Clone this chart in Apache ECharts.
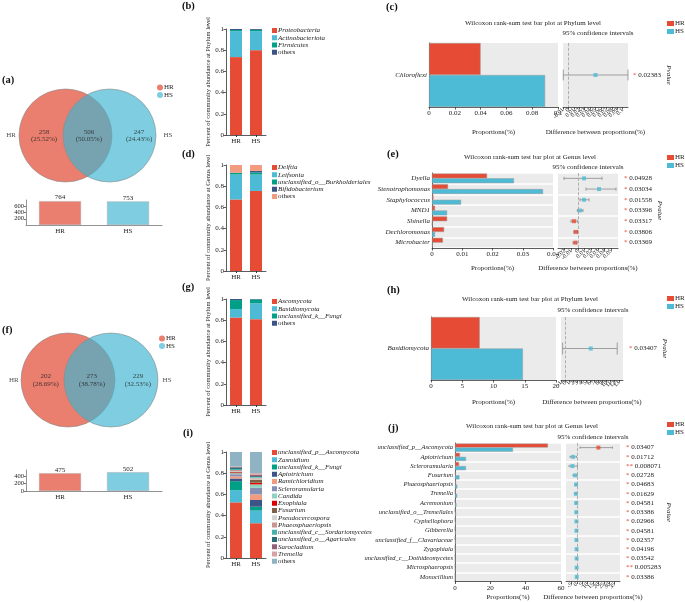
<!DOCTYPE html>
<html><head><meta charset="utf-8">
<script src="https://cdn.jsdelivr.net/npm/echarts@6/dist/echarts.min.js"></script>
<style>html,body{margin:0;padding:0;background:#fff}#c{width:685px;height:602px}</style>
</head><body><div id="c"></div>
<script>
// ---------------- DATA ----------------
const groups = ['HR', 'HS'];
// Venn counts: [HR only, shared, HS only]
const vennA = [258, 506, 247];
const vennF = [202, 273, 229];

const taxaB = ['Proteobacteria', 'Actinobacteriota', 'Firmicutes', 'others'];
const taxaB_HR = [0.735, 0.245, 0.010, 0.010];
const taxaB_HS = [0.800, 0.180, 0.012, 0.008];

const taxaD = ['Delftia', 'Leifsonia', 'unclassified_o__Burkholderiales', 'Bifidobacterium', 'others'];
const taxaD_HR = [0.675, 0.235, 0.015, 0.003, 0.072];
const taxaD_HS = [0.755, 0.155, 0.020, 0.015, 0.055];

const taxaG = ['Ascomycota', 'Basidiomycota', 'unclassified_k__Fungi', 'others'];
const taxaG_HR = [0.825, 0.080, 0.085, 0.010];
const taxaG_HS = [0.810, 0.150, 0.035, 0.005];

const taxaI = ['unclassified_p__Ascomycota', 'Zasmidium', 'unclassified_k__Fungi', 'Apiotrichum', 'Ramichloridium',
  'Scleroramularia', 'Candida', 'Exophiala', 'Fusarium', 'Pseudocercospora', 'Phaeosphaeriopsis',
  'unclassified_c__Sordariomycetes', 'unclassified_o__Agaricales', 'Sarocladium', 'Tremella', 'others'];
const taxaI_HR = [0.525, 0.115, 0.085, 0.025, 0.020, 0.020, 0.010, 0.008, 0.007, 0.005, 0.010, 0.010, 0.015, 0.005, 0.005, 0.135];
const taxaI_HS = [0.328, 0.119, 0.037, 0.063, 0.053, 0.062, 0.032, 0.016, 0.030, 0.010, 0.008, 0.007, 0.008, 0.012, 0.015, 0.200];

// Wilcoxon (c) phylum, bacteria
const catsC = ['Chloroflexi'];
const hrC = [0.040];
const hsC = [0.090];
const diffC = [0.050];
const loC = [-0.0095];
const hiC = [0.110];
const pC = ['0.02383'];

// Wilcoxon (e) genus, bacteria
const catsE = ['Dyella', 'Stenotrophomonas', 'Staphylococcus', 'MND1', 'Shinella', 'Dechloromonas', 'Microbacter'];
const hrE = [0.0182, 0.0053, 0.0005, 0.0010, 0.0050, 0.0040, 0.0036];
const hsE = [0.0271, 0.0367, 0.0096, 0.0050, 0.0001, 0.0010, 0.0002];
const diffE = [0.009, 0.0315, 0.009, 0.003, -0.006, -0.003, -0.004];
const loE = [-0.021, 0.012, 0.003, -0.001, -0.0105, -0.0065, -0.0075];
const hiE = [0.036, 0.057, 0.0165, 0.0075, -0.001, -0.0005, -0.0015];
const pE = ['0.04928', '0.03034', '0.01558', '0.03396', '0.03317', '0.03806', '0.03369'];

// Wilcoxon (h) phylum, fungi
const catsH = ['Basidiomycota'];
const hrH = [7.8];
const hsH = [14.7];
const diffH = [6.2];
const loH = [-0.6];
const hiH = [12.6];
const pH = ['0.03407'];

// Wilcoxon (j) genus, fungi
const catsJ = ['unclassified_p__Ascomycota', 'Apiotrichum', 'Scleroramularia', 'Fusarium', 'Phaeosphaeriopsis', 'Tremella',
  'Acremonium', 'unclassified_o__Tremellales', 'Cyphellophora', 'Gibberella', 'unclassified_f__Clavariaceae', 'Zygophiala',
  'unclassified_c__Dothideomycetes', 'Microsphaeropsis', 'Monocillium'];
const hrJ = [52.6, 2.8, 2.3, 0.3, 0.6, 0.2, 0.1, 0.05, 0.05, 0.02, 0.02, 0, 0, 0, 0];
const hsJ = [32.8, 6.2, 6.2, 2.5, 1.3, 1.2, 0.8, 0.6, 0.4, 0.4, 0.4, 0.2, 0.15, 0.15, 0.1];
const diffJ = [20.0, -3.4, -4.0, -1.5, -0.7, -0.9, -0.6, -0.5, -0.35, -0.35, -0.35, -0.2, -0.15, -0.15, -0.1];
const loJ = [3.0, -6.2, -7.1, -3.5, -1.3, -1.5, -1.0, -0.8, -0.6, -0.6, -0.6, -0.35, -0.3, -0.3, -0.2];
const hiJ = [33.0, -0.3, 0.6, 0.3, -0.2, -0.3, -0.3, -0.2, -0.1, -0.1, -0.1, -0.05, -0.05, -0.03, -0.02];
const pJ = ['0.03407', '0.01712', '0.008071', '0.02728', '0.04683', '0.01629', '0.04581', '0.03386', '0.02966',
  '0.04581', '0.02357', '0.04196', '0.03542', '0.005283', '0.03386'];

// ---------------- STYLE ----------------
const FONT = 'Liberation Serif';
const RED = '#e64b35', BLUE = '#4dbbd5';
const VRED = '#ea7e6f', VBLUE = '#7ecde0';
const colB = ['#E64B35', '#4DBBD5', '#00A087', '#3C5488'];
const colD = ['#E64B35', '#4DBBD5', '#00A087', '#3C5488', '#F39B7F'];
const colG = ['#E64B35', '#4DBBD5', '#00A087', '#3C5488'];
const colI = ['#E64B35', '#4DBBD5', '#00A087', '#3C5488', '#F39B7F', '#8491B4', '#91D1C2', '#DC0000', '#7E6148',
  '#d4d4d4', '#c8968f', '#45b3a9', '#2b6c74', '#93607c', '#d9a0a5', '#8fb3c2'];

const option = {
  animation: false, backgroundColor: '#fff',
  textStyle: { fontFamily: FONT, color: '#222' },
  grid: [], xAxis: [], yAxis: [], series: [], legend: [], graphic: []
};
const axisLineS = { show: true, lineStyle: { color: '#333', width: 0.8 } };
const tickS = { show: true, length: 2.5, lineStyle: { color: '#333', width: 0.8 } };
const lab = o => Object.assign({ fontSize: 7, color: '#222', fontFamily: FONT }, o || {});
const nameS = o => Object.assign({ fontSize: 7, color: '#222', fontFamily: FONT }, o || {});

function addGrid(g, xa, ya) {
  const gi = option.grid.length; option.grid.push(g);
  const xi = option.xAxis.length; option.xAxis.push(Object.assign({ gridIndex: gi }, xa));
  const yi = option.yAxis.length; option.yAxis.push(Object.assign({ gridIndex: gi }, ya));
  return { gi, xi, yi };
}
function addText(text, x, y, o) {
  option.graphic.push({ type: 'text', x, y, silent: true,
    style: Object.assign({ text, fontFamily: FONT, fontSize: 7, fill: '#222', align: 'center', verticalAlign: 'middle' }, o || {}) });
}

// ---------------- VENN ----------------
function vennPanel(counts, L) {
  const total = counts[0] + counts[1] + counts[2];
  const g = addGrid({ left: L.cx - 1.85 * L.u, top: L.cy - 1.2 * L.u, width: 3.85 * L.u, height: 2.4 * L.u },
    { type: 'value', min: -1.85, max: 2, show: false }, { type: 'value', min: -1.2, max: 1.2, show: false });
  const circ = fill => (params, api) => {
    const c = api.coord([api.value(0), api.value(1)]);
    const r = api.size([api.value(2), 0])[0];
    return { type: 'circle', shape: { cx: c[0], cy: c[1], r }, style: { fill, stroke: '#8c8c8c', lineWidth: 0.6 } };
  };
  option.series.push({ type: 'custom', name: 'HR\u200b', xAxisIndex: g.xi, yAxisIndex: g.yi, silent: true, clip: false,
    itemStyle: { color: VRED }, data: [[-L.d, 0, 1]], renderItem: circ(VRED) });
  option.series.push({ type: 'custom', name: 'HS\u200b', xAxisIndex: g.xi, yAxisIndex: g.yi, silent: true, clip: false,
    itemStyle: { color: VBLUE }, data: [[L.d, 0, 1]], renderItem: circ('rgba(65,181,209,0.68)') });
  const pct = v => (v / total * 100).toFixed(2) + '%';
  option.series.push({ type: 'scatter', xAxisIndex: g.xi, yAxisIndex: g.yi, symbolSize: 0, silent: true, z: 5,
    label: { show: true, position: 'inside', fontSize: 7, lineHeight: 7.5, color: '#222', fontFamily: FONT, formatter: '{b}' },
    data: [
      { name: 'HR', value: [L.hrX, 0] },
      { name: 'HS', value: [L.hsX, 0] },
      { name: counts[0] + '\n(' + pct(counts[0]) + ')', value: [L.tx[0], 0] },
      { name: counts[1] + '\n(' + pct(counts[1]) + ')', value: [L.tx[1], 0] },
      { name: counts[2] + '\n(' + pct(counts[2]) + ')', value: [L.tx[2], 0] }
    ] });
  option.legend.push({ left: L.lg[0], top: L.lg[1], orient: 'vertical', data: ['HR\u200b', 'HS\u200b'], icon: 'circle',
    itemWidth: 6, itemHeight: 6, itemGap: 0.5, selectedMode: false, padding: 0, itemStyle: { borderWidth: 0 },
    textStyle: { fontSize: 7, lineHeight: 6, fontFamily: FONT, color: '#222', padding: [0, 0, 0, -4] } });
  // totals bar chart
  const tot = [counts[0] + counts[1], counts[1] + counts[2]];
  const b = addGrid({ left: 26, top: L.bar[0], width: 136, height: L.bar[1] },
    { type: 'category', data: groups, axisLine: { show: true, lineStyle: { color: '#777', width: 0.8 } }, axisTick: { show: false },
      axisLabel: lab({ margin: 3 }) },
    { type: 'value', min: 0, max: L.bar[2], interval: 200, axisLine: { show: true, lineStyle: { color: '#777', width: 0.8 } },
      axisTick: { show: true, length: 2, lineStyle: { color: '#777' } }, axisLabel: lab({ fontSize: 6.5, margin: 2, showMaxLabel: false }),
      splitLine: { show: false } });
  option.series.push({ type: 'bar', xAxisIndex: b.xi, yAxisIndex: b.yi, barWidth: 42, silent: true,
    itemStyle: { borderColor: '#aaa', borderWidth: 0.5 },
    label: { show: true, position: 'top', distance: 0, fontSize: 7, color: '#222', fontFamily: FONT },
    data: tot.map((v, i) => ({ value: v, itemStyle: { color: i ? VBLUE : VRED } })) });
}

vennPanel(vennA, { cx: 87.5, cy: 135.5, u: 46.5, d: 0.473, hrX: -1.645, hsX: 1.73, tx: [-0.935, 0.03, 1.11], lg: [157, 84], bar: [200, 25, 800] });
vennPanel(vennF, { cx: 89.5, cy: 380, u: 47, d: 0.457, hrX: -1.61, hsX: 1.65, tx: [-0.93, 0.05, 1.03], lg: [159, 335], bar: [470, 21, 560] });

// ---------------- STACKED BARS ----------------
function stackPanel(key, taxa, hr, hs, colors, top, yname, legendTop) {
  const g = addGrid({ left: 226, top, width: 40, height: 106 },
    { type: 'category', data: groups, axisLine: axisLineS, axisTick: { show: true, alignWithLabel: true, length: 2, lineStyle: { color: '#333' } },
      axisLabel: lab({ margin: 3 }) },
    { type: 'value', min: 0, max: 1, interval: 0.2, name: yname, nameLocation: 'middle', nameGap: 14,
      nameTextStyle: nameS({ fontSize: 6.5 }), axisLine: axisLineS, axisTick: tickS, axisLabel: lab({ margin: 2 }), splitLine: { show: false } });
  const names = taxa.map(t => key + '::' + t);
  taxa.forEach((t, i) => option.series.push({ type: 'bar', name: names[i], stack: key, xAxisIndex: g.xi, yAxisIndex: g.yi,
    barWidth: 12, silent: true, data: [hr[i], hs[i]], itemStyle: { color: colors[i] } }));
  const rs = { fontSize: 7, lineHeight: 6, fontFamily: FONT, color: '#222' };
  option.legend.push({ left: 272, top: legendTop, orient: 'vertical', data: names, icon: 'rect', itemWidth: 5, itemHeight: 5,
    itemGap: 0.25, selectedMode: false, padding: 0,
    formatter: n => { const s = n.split('::')[1]; return s === 'others' ? '{n|others}' : '{i|' + s + '}'; },
    textStyle: Object.assign({}, rs, { padding: [0, 0, 0, -4], rich: { i: Object.assign({ fontStyle: 'italic' }, rs), n: Object.assign({}, rs) } }) });
}
stackPanel('b', taxaB, taxaB_HR, taxaB_HS, colB, 29, 'Percent of community abundance at Phylum level', 27);
stackPanel('d', taxaD, taxaD_HR, taxaD_HS, colD, 165, 'Percent of community abundance at Genus level', 164);
stackPanel('g', taxaG, taxaG_HR, taxaG_HS, colG, 299, 'Percent of community abundance at Phylum level', 298);
stackPanel('i', taxaI, taxaI_HR, taxaI_HS, colI, 452, 'Percent of community abundance at Genus level', 449);

// ---------------- WILCOXON ----------------
function wilcox(W) {
  const n = W.cats.length;
  const stars = W.p.map(v => parseFloat(v) < 0.01 ? '**' : '*');
  const L = addGrid({ left: W.L[0], top: W.top, width: W.L[1], height: W.h, show: true, backgroundColor: '#ebebeb', borderWidth: 0 },
    { type: 'value', min: 0, max: W.lmax, interval: W.lint, name: 'Proportions(%)', nameLocation: 'middle', nameGap: W.lgap,
      nameTextStyle: nameS(), axisLine: axisLineS, axisTick: tickS, axisLabel: lab({ margin: 3 }), splitLine: { show: false } },
    { type: 'category', data: W.cats, inverse: true, axisLine: axisLineS, axisTick: { show: false },
      axisLabel: lab({ fontStyle: 'italic', margin: 2, fontSize: W.cfs }),
      splitLine: { show: n > 1, lineStyle: { color: '#fff', width: 1.5 } } });
  option.series.push({ type: 'bar', name: 'HR', xAxisIndex: L.xi, yAxisIndex: L.yi, data: W.hr, barGap: '0%', barCategoryGap: W.gap,
    silent: true, itemStyle: { color: RED, borderColor: '#9a9a9a', borderWidth: 0.5 } });
  option.series.push({ type: 'bar', name: 'HS', xAxisIndex: L.xi, yAxisIndex: L.yi, data: W.hs, barGap: '0%', barCategoryGap: W.gap,
    silent: true, itemStyle: { color: BLUE, borderColor: '#9a9a9a', borderWidth: 0.5 } });
  const R = addGrid({ left: W.R[0], top: W.top, width: W.R[1], height: W.h, show: true, backgroundColor: '#ebebeb', borderWidth: 0 },
    { type: 'value', min: W.rmin, max: W.rmax, interval: W.rint, name: 'Difference between proportions(%)', nameLocation: 'middle',
      nameGap: W.rgap, nameTextStyle: nameS(), axisLine: axisLineS, axisTick: tickS,
      axisLabel: lab({ rotate: 45, margin: 2, fontSize: 6 }), splitLine: { show: false } },
    { type: 'category', data: W.cats, inverse: true, axisLine: { show: false }, axisTick: { show: false }, axisLabel: { show: false },
      splitLine: { show: n > 1, lineStyle: { color: '#fff', width: 1.5 } } });
  option.yAxis.push({ gridIndex: R.gi, type: 'category', position: 'right', inverse: true, data: W.p.map((v, i) => String(i)),
    axisLine: { show: false }, axisTick: { show: false },
    axisLabel: { fontSize: 7, color: '#222', fontFamily: FONT, margin: W.pm, formatter: (v, i) => '{s|' + stars[i] + '} ' + W.p[i],
      rich: { s: { color: RED, fontSize: 7, fontFamily: FONT } } },
    name: 'Pvalue', nameLocation: 'middle', nameRotate: -90, nameGap: W.pgap, nameTextStyle: nameS({ fontStyle: 'italic' }) });
  option.series.push({ type: 'custom', xAxisIndex: R.xi, yAxisIndex: R.yi, silent: true, z: 2,
    data: W.cats.map((c, i) => [W.lo[i], W.hi[i], i]), encode: { x: [0, 1], y: 2 },
    renderItem: (params, api) => {
      const a = api.coord([api.value(0), api.value(2)]);
      const b = api.coord([api.value(1), api.value(2)]);
      const h = api.size([0, 1])[1] * W.cap / 2;
      const st = { stroke: '#8a8a8a', lineWidth: 0.8 };
      return { type: 'group', children: [
        { type: 'line', shape: { x1: a[0], y1: a[1], x2: b[0], y2: b[1] }, style: st },
        { type: 'line', shape: { x1: a[0], y1: a[1] - h, x2: a[0], y2: a[1] + h }, style: st },
        { type: 'line', shape: { x1: b[0], y1: b[1] - h, x2: b[0], y2: b[1] + h }, style: st }
      ] };
    } });
  option.series.push({ type: 'scatter', xAxisIndex: R.xi, yAxisIndex: R.yi, symbol: 'rect', symbolSize: 4, silent: true, z: 3,
    data: W.diff.map((d, i) => ({ value: [d, i], itemStyle: { color: W.hr[i] > W.hs[i] ? RED : BLUE } })),
    markLine: { silent: true, symbol: 'none', label: { show: false }, lineStyle: { type: 'dashed', color: '#a0a0a0', width: 0.8 },
      data: [{ xAxis: 0 }] } });
  addText(W.title, W.tpos[0], W.tpos[1]);
  addText('95% confidence intervals', W.cpos[0], W.cpos[1]);
  option.legend.push({ left: W.lg[0], top: W.lg[1], orient: 'vertical', data: ['HR', 'HS'], icon: 'rect', itemWidth: 7, itemHeight: 5,
    itemGap: 1, selectedMode: false, padding: 0, itemStyle: { borderWidth: 0 },
    textStyle: { fontSize: 7, lineHeight: 5, fontFamily: FONT, color: '#222', padding: [0, 0, 0, -4] } });
}

wilcox({ cats: catsC, hr: hrC, hs: hsC, diff: diffC, lo: loC, hi: hiC, p: pC, top: 43, h: 64, L: [429, 129], R: [563, 65],
  lmax: 0.1, lint: 0.02, rmin: -0.01, rmax: 0.11, rint: 0.01, gap: '0%', cap: 0.17, lgap: 22, rgap: 22, pm: 5, pgap: 35, cfs: 7,
  title: 'Wilcoxon rank-sum test bar plot at Phylum level', tpos: [533, 23], cpos: [598, 33], lg: [667, 20] });
wilcox({ cats: catsE, hr: hrE, hs: hsE, diff: diffE, lo: loE, hi: hiE, p: pE, top: 173, h: 75, L: [432, 121], R: [558, 60],
  lmax: 0.04, lint: 0.01, rmin: -0.03, rmax: 0.06, rint: 0.01, gap: '10%', cap: 0.3, lgap: 16.5, rgap: 16.5, pm: 6, pgap: 36, cfs: 7,
  title: 'Wilcoxon rank-sum test bar plot at Genus level', tpos: [530, 157], cpos: [588, 167], lg: [667, 154] });
wilcox({ cats: catsH, hr: hrH, hs: hsH, diff: diffH, lo: loH, hi: hiH, p: pH, top: 317, h: 63, L: [431, 125], R: [561, 62],
  lmax: 20, lint: 5, rmin: -1, rmax: 14, rint: 1, gap: '0%', cap: 0.19, lgap: 18.5, rgap: 18.5, pm: 6, pgap: 31, cfs: 7,
  title: 'Wilcoxon rank-sum test bar plot at Phylum level', tpos: [530, 299], cpos: [593, 310], lg: [667, 295] });
wilcox({ cats: catsJ, hr: hrJ, hs: hsJ, diff: diffJ, lo: loJ, hi: hiJ, p: pJ, top: 443, h: 139, L: [455, 106], R: [566, 54],
  lmax: 60, lint: 20, rmin: -10, rmax: 40, rint: 5, gap: '12%', cap: 0.25, lgap: 12.5, rgap: 12.5, pm: 6, pgap: 39, cfs: 6.5,
  title: 'Wilcoxon rank-sum test bar plot at Genus level', tpos: [532, 426], cpos: [593, 437], lg: [667, 421] });

// panel letters
const letters = [['(a)', 2, 80], ['(b)', 182, 6], ['(c)', 386, 7], ['(d)', 182, 154], ['(e)', 387, 154],
  ['(f)', 2, 330], ['(g)', 182, 287], ['(h)', 387, 290], ['(i)', 183, 433], ['(j)', 388, 428]];
letters.forEach(l => addText(l[0], l[1], l[2], { align: 'left', fontSize: 10.5, fontWeight: 'bold', fill: '#111' }));

const chart = echarts.init(document.getElementById('c'), null, { renderer: 'canvas' });
chart.setOption(option);
</script>
</body></html>
